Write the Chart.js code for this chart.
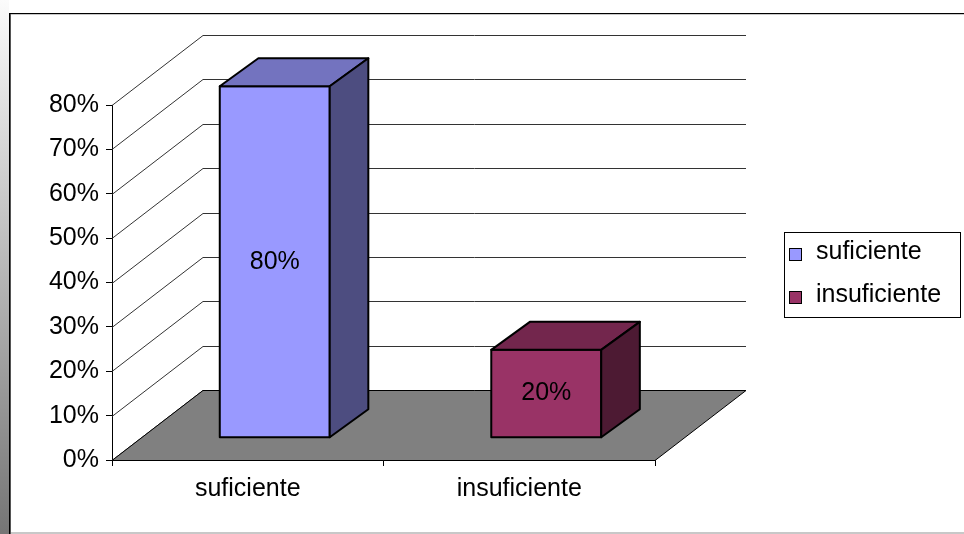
<!DOCTYPE html>
<html>
<head>
<meta charset="utf-8">
<script src="https://cdn.jsdelivr.net/npm/chart.js@4.4.0/dist/chart.umd.min.js"></script>
<style>
  html, body { margin: 0; padding: 0; background: #fff; }
</style>
</head>
<body>
<canvas id="grafico" width="964" height="534"></canvas>
<script>
const categorias = ['suficiente', 'insuficiente'];
const porcentajes = [80, 20];
const ticksY = [0, 10, 20, 30, 40, 50, 60, 70, 80];

// caras de cada barra: frente, tapa y lateral
const coloresFrente = ['#9999FF', '#993366'];
const coloresTapa = ['#7373BF', '#73264D'];
const coloresLado = ['#4D4D80', '#4D1A33'];

const FUENTE = '"Liberation Sans", Arial, sans-serif';
const TAM = 25;
Chart.defaults.font.family = FUENTE;
Chart.defaults.font.size = TAM;
Chart.defaults.color = '#000';

// profundidad de las paredes y de las barras
const pared = { dx: 91, dy: -70 };
const barra = { fx: 27, fy: -22.3, dx: 38.6, dy: -28, escala: 0.99 };

const marco = {
  id: 'marco',
  beforeDraw(chart) {
    const ctx = chart.ctx;
    ctx.save();
    const g = ctx.createLinearGradient(0, 0, 0, 534);
    g.addColorStop(0, '#fbfbfb');
    g.addColorStop(1, '#757575');
    ctx.fillStyle = g;
    ctx.fillRect(0, 0, 9, 534);
    ctx.fillStyle = '#000';
    ctx.fillRect(9, 13, 955, 1);
    ctx.fillRect(9, 13, 1, 521);
    ctx.fillStyle = '#c8c8c8';
    ctx.fillRect(10, 14, 954, 1);
    ctx.fillRect(11, 532, 953, 2);
    ctx.fillStyle = '#555';
    ctx.fillRect(10, 14, 1, 520);
    ctx.restore();
  }
};

const barras3d = {
  id: 'barras3d',
  beforeDatasetsDraw(chart) {
    const { ctx, chartArea: a, scales: { y } } = chart;
    ctx.save();

    // líneas de división en la pared lateral y la del fondo
    ctx.strokeStyle = '#333';
    ctx.lineWidth = 1;
    ticksY.forEach(v => {
      const yf = Math.round(y.getPixelForValue(v)) + 0.5;
      ctx.beginPath();
      ctx.moveTo(a.left, yf);
      ctx.lineTo(a.left + pared.dx, yf + pared.dy);
      ctx.lineTo(a.right + pared.dx, yf + pared.dy);
      ctx.stroke();
    });

    // piso gris
    const y0 = Math.round(y.getPixelForValue(0)) + 0.5;
    ctx.beginPath();
    ctx.moveTo(a.left, y0);
    ctx.lineTo(a.right, y0);
    ctx.lineTo(a.right + pared.dx, y0 + pared.dy);
    ctx.lineTo(a.left + pared.dx, y0 + pared.dy);
    ctx.closePath();
    ctx.fillStyle = '#808080';
    ctx.fill();
    ctx.strokeStyle = '#000';
    ctx.stroke();

    // barras como prismas
    const meta = chart.getDatasetMeta(0);
    ctx.lineWidth = 2;
    ctx.lineJoin = 'round';
    meta.data.forEach((el, i) => {
      const izq = el.x - el.width / 2 + barra.fx;
      const der = izq + el.width;
      const abajo = el.base + barra.fy;
      const arriba = abajo - (el.base - el.y) * barra.escala;
      const cara = (pts, color) => {
        ctx.beginPath();
        ctx.moveTo(pts[0][0], pts[0][1]);
        pts.slice(1).forEach(p => ctx.lineTo(p[0], p[1]));
        ctx.closePath();
        ctx.fillStyle = color;
        ctx.fill();
        ctx.strokeStyle = '#000';
        ctx.stroke();
      };
      cara([[izq, arriba], [der, arriba], [der, abajo], [izq, abajo]], coloresFrente[i]);
      cara([[izq, arriba], [izq + barra.dx, arriba + barra.dy], [der + barra.dx, arriba + barra.dy], [der, arriba]], coloresTapa[i]);
      cara([[der, arriba], [der + barra.dx, arriba + barra.dy], [der + barra.dx, abajo + barra.dy], [der, abajo]], coloresLado[i]);

      ctx.fillStyle = '#000';
      ctx.font = TAM + 'px ' + FUENTE;
      ctx.textAlign = 'center';
      ctx.textBaseline = 'middle';
      ctx.fillText(porcentajes[i] + '%', (izq + der) / 2, (arriba + abajo) / 2);
    });

    ctx.restore();
    return false;
  }
};

const leyenda = {
  id: 'leyenda',
  afterDraw(chart) {
    const ctx = chart.ctx;
    ctx.save();
    ctx.strokeStyle = '#000';
    ctx.lineWidth = 1;
    ctx.strokeRect(784.5, 232.5, 176, 85);
    ctx.font = TAM + 'px ' + FUENTE;
    ctx.textAlign = 'left';
    ctx.textBaseline = 'alphabetic';
    categorias.forEach((c, i) => {
      const top = 248 + i * 43;
      ctx.fillStyle = coloresFrente[i];
      ctx.fillRect(789, top, 13, 13);
      ctx.strokeRect(789.5, top + 0.5, 12, 12);
      ctx.fillStyle = '#000';
      ctx.fillText(c, 816, top + 11);
    });
    ctx.restore();
  }
};

new Chart(document.getElementById('grafico'), {
  type: 'bar',
  data: {
    labels: categorias,
    datasets: [{
      label: 'porcentaje',
      data: porcentajes,
      backgroundColor: coloresFrente,
      barPercentage: 0.45,
      categoryPercentage: 0.9
    }]
  },
  options: {
    responsive: false,
    animation: false,
    devicePixelRatio: 1,
    events: [],
    layout: { padding: { left: 10, top: 105, right: 309, bottom: 0 } },
    plugins: {
      legend: { display: false },
      tooltip: { enabled: false }
    },
    scales: {
      x: {
        afterFit(scale) { scale.height = 74; },
        grid: { offset: true, drawOnChartArea: false, tickLength: 6, color: '#000' },
        border: { color: '#000' },
        ticks: { padding: 8 }
      },
      y: {
        min: 0,
        max: 80,
        afterFit(scale) { scale.width = 102; },
        afterBuildTicks(scale) { scale.ticks = ticksY.map(v => ({ value: v })); },
        grid: { drawOnChartArea: false, tickLength: 6, color: '#000' },
        border: { color: '#000' },
        ticks: { padding: 7, callback: v => v + '%' }
      }
    }
  },
  plugins: [marco, barras3d, leyenda]
});
</script>
</body>
</html>
